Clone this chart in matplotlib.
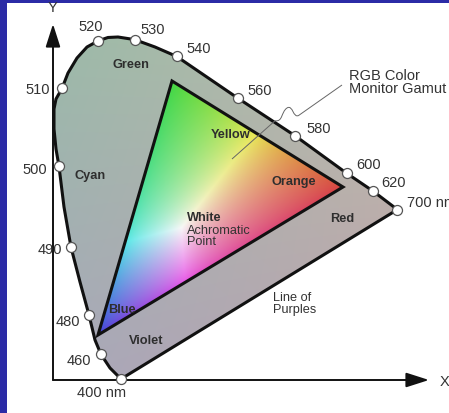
import numpy as np
import matplotlib
matplotlib.use('Agg')
import matplotlib.pyplot as plt
from matplotlib.path import Path
from matplotlib.patches import Polygon, PathPatch, Rectangle

plt.rcParams['font.family'] = ['Liberation Sans', 'DejaVu Sans']

# spectral locus, labelled wavelengths (diagram units, origin at the axis corner)
wavelengths = [400, 460, 480, 490, 500, 510, 520, 530, 540, 560, 580, 600, 620, 700]
wl_x = [0.170, 0.120, 0.090, 0.045, 0.015, 0.0225, 0.113, 0.204, 0.309, 0.463, 0.606, 0.734, 0.799, 0.861]
wl_y = [0.0025, 0.064, 0.1625, 0.332, 0.534, 0.729, 0.848, 0.851, 0.809, 0.704, 0.610, 0.517, 0.473, 0.426]

# outline of the horseshoe, 400 nm round to 700 nm
locus_x = [0.170, 0.1425, 0.120, 0.105, 0.090, 0.0675, 0.045, 0.0275, 0.015, 0.0075,
           0.0025, 0.0025, 0.0075, 0.0225, 0.0375, 0.060, 0.085, 0.113, 0.1375, 0.1625,
           0.204, 0.255, 0.309, 0.463, 0.606, 0.734, 0.799, 0.861]
locus_y = [0.0025, 0.030, 0.064, 0.100, 0.1625, 0.245, 0.332, 0.4325, 0.534, 0.5775,
           0.6275, 0.6775, 0.7025, 0.729, 0.7675, 0.805, 0.8325, 0.848, 0.8563, 0.8575,
           0.851, 0.8325, 0.809, 0.704, 0.610, 0.517, 0.473, 0.426]

# monitor gamut triangle: green, red, blue primaries
gamut_x = [0.2975, 0.725, 0.1125]
gamut_y = [0.7475, 0.4825, 0.1125]

# wavelength label offsets (pixels) from each marker
label_dx = [-19, -22, -21, -21, -24, -24, -7, 18, 22, 22, 23, 22, 21, 10]
label_dy = [-13, -6, -6, -2, -3, -1, 15, 11, 8, 8, 8, 9, 9, 8]

region_names = ['Green', 'Cyan', 'Yellow', 'Orange', 'Red', 'Blue', 'Violet']
region_x = [0.196, 0.0925, 0.445, 0.601, 0.722, 0.172, 0.234]
region_y = [0.790, 0.5125, 0.615, 0.498, 0.404, 0.1775, 0.100]

W, H = 449, 414
fig = plt.figure(figsize=(W / 100, H / 100), dpi=100)
fig.patch.set_facecolor('#2b2ba6')

ax = fig.add_axes([0, 0, 1, 1])
ax.set_xlim(-53 / 400, (W - 53) / 400)
ax.set_ylim(-(H - 381) / 400, 381 / 400)
ax.axis('off')

# white slide panel
ax.add_patch(Rectangle((7 / W, 0), 1, 1 - 4 / H, transform=fig.transFigure,
                       facecolor='white', edgecolor='none', zorder=0, clip_on=False))

# grey background inside the horseshoe
locus_pts = np.column_stack([locus_x, locus_y])
locus_patch = Polygon(locus_pts, closed=True, facecolor='none', edgecolor='none')
ax.add_patch(locus_patch)
nx, ny = 220, 220
gx, gy = np.meshgrid(np.linspace(0, 0.87, nx), np.linspace(0, 0.87, ny))
u = (gx / 0.87)[..., None]
v = (gy / 0.87)[..., None]
c_tl = np.array([0.61, 0.73, 0.66])
c_tr = np.array([0.74, 0.74, 0.66])
c_bl = np.array([0.66, 0.66, 0.73])
c_br = np.array([0.74, 0.63, 0.68])
grey = (1 - u) * (1 - v) * c_bl + u * (1 - v) * c_br + (1 - u) * v * c_tl + u * v * c_tr
im = ax.imshow(grey, origin='lower', extent=(0, 0.87, 0, 0.87), interpolation='bilinear', zorder=1)
im.set_clip_path(locus_patch)

# rainbow fill of the gamut triangle from barycentric weights
tri = np.column_stack([gamut_x, gamut_y])
tri_patch = Polygon(tri, closed=True, facecolor='none', edgecolor='none')
ax.add_patch(tri_patch)
x0, x1 = min(gamut_x), max(gamut_x)
y0, y1 = min(gamut_y), max(gamut_y)
tx, ty = np.meshgrid(np.linspace(x0, x1, 300), np.linspace(y0, y1, 300))
(gxv, rxv, bxv), (gyv, ryv, byv) = gamut_x, gamut_y
det = (ryv - byv) * (gxv - bxv) + (bxv - rxv) * (gyv - byv)
wg = ((ryv - byv) * (tx - bxv) + (bxv - rxv) * (ty - byv)) / det
wr = ((byv - gyv) * (tx - bxv) + (gxv - bxv) * (ty - byv)) / det
wb = 1 - wg - wr
w = np.clip(np.dstack([wr, wg * 0.95, wb * 0.55]), 1e-6, None)
s = (w / w.max(axis=2, keepdims=True)) ** 0.7
# soften the primaries a little
s = 0.75 * s + 0.25 * s.mean(axis=2, keepdims=True)
rgb = np.clip(0.18 + 0.79 * s, 0, 1)
im2 = ax.imshow(rgb, origin='lower', extent=(x0, x1, y0, y1), interpolation='bilinear', zorder=2)
im2.set_clip_path(tri_patch)

# outlines
ax.add_patch(Polygon(locus_pts, closed=True, facecolor='none', edgecolor='#111111',
                     lw=2.2, joinstyle='round', zorder=3))
ax.add_patch(Polygon(tri, closed=True, facecolor='none', edgecolor='#111111',
                     lw=2.2, joinstyle='miter', zorder=3))

# axes arrows
arrow_style = dict(arrowstyle='-|>,head_length=1.0,head_width=0.32', color='#111111',
                   lw=1.4, mutation_scale=14, shrinkA=0, shrinkB=0)
ax.annotate('', xy=(0, 0.89), xytext=(0, 0), zorder=2.5, arrowprops=arrow_style)
ax.annotate('', xy=(0.94, 0), xytext=(0, 0), zorder=2.5, arrowprops=arrow_style)
ax.text(0, 0.932, 'Y', ha='center', va='center', fontsize=10.5, color='#333333')
ax.text(0.98, -0.002, 'X', ha='center', va='center', fontsize=10.5, color='#333333')

# wavelength markers and labels
ax.plot(wl_x, wl_y, 'o', ms=7.2, mfc='white', mec='#555555', mew=0.9, zorder=4)
for wl, x, y, dx, dy in zip(wavelengths, wl_x, wl_y, label_dx, label_dy):
    txt = str(wl) + (' nm' if wl in (400, 700) else '')
    ha = 'left' if wl == 700 else 'center'
    ax.annotate(txt, (x, y), xytext=(dx, dy), textcoords='offset pixels',
                ha=ha, va='center', fontsize=10.5, color='#333333', zorder=5)

for name, x, y in zip(region_names, region_x, region_y):
    ax.text(x, y, name, ha='center', va='center', fontsize=9.2, fontweight='bold',
            color='#2e2e2e', zorder=5)

ax.text(0.335, 0.407, 'White', ha='left', va='center', fontsize=9.2, fontweight='bold',
        color='#2e2e2e', zorder=5)
ax.text(0.335, 0.3615, 'Achromatic\nPoint', ha='left', va='center', fontsize=9.2,
        color='#333333', linespacing=0.95, zorder=5)
ax.text(0.551, 0.193, 'Line of\nPurples', ha='left', va='center', fontsize=9.2,
        color='#333333', linespacing=0.95, zorder=5)
ax.text(0.74, 0.746, 'RGB Color\nMonitor Gamut', ha='left', va='center', fontsize=10.5,
        color='#333333', linespacing=0.95, zorder=5)

# squiggly leader line to the gamut
lead = Path([(0.7225, 0.7375), (0.615, 0.662),
             (0.60, 0.652), (0.60, 0.69), (0.585, 0.68),
             (0.570, 0.67), (0.575, 0.645), (0.555, 0.648),
             (0.4475, 0.5525)],
            [Path.MOVETO, Path.LINETO,
             Path.CURVE4, Path.CURVE4, Path.CURVE4,
             Path.CURVE4, Path.CURVE4, Path.CURVE4,
             Path.LINETO])
ax.add_patch(PathPatch(lead, facecolor='none', edgecolor='#666666', lw=0.7, zorder=4))

fig.savefig('out.png', dpi=100, facecolor=fig.get_facecolor())
